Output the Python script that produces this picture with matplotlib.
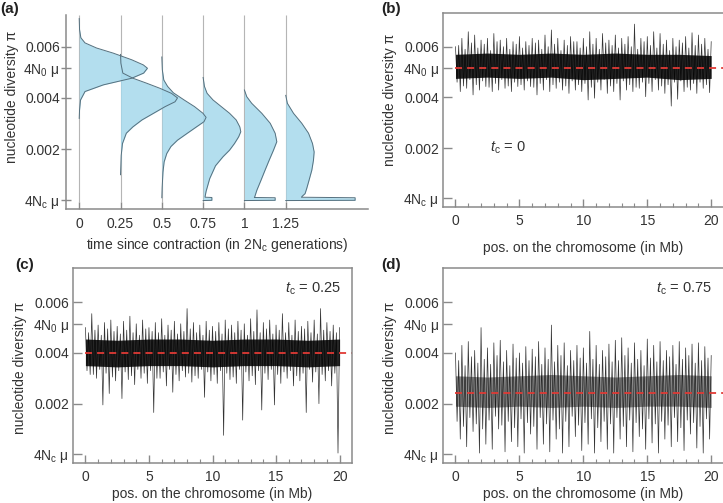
import numpy as np
import matplotlib
matplotlib.use("Agg")
import matplotlib.pyplot as plt

# all diversity values in units of 1e-3
PI_4NC_MU = 0.03
PI_4N0_MU = 5.15

# panel (a): densities of pi at each time since contraction
times = [0, 0.25, 0.5, 0.75, 1, 1.25]

pi_t000 = [7.1, 6.67, 6.35, 6.15, 5.95, 5.75, 5.49, 5.29, 5.16, 4.97, 4.77, 4.51, 4.25, 3.92, 3.53, 3.2]
w_t000 = [0.0, 0.002, 0.01, 0.035, 0.105, 0.206, 0.318, 0.388, 0.413, 0.39, 0.318, 0.146, 0.035, 0.008, 0.002, 0.0]

pi_t025 = [5.7, 5.36, 4.97, 4.77, 4.58, 4.38, 4.18, 4.0, 3.85, 3.66, 3.40, 3.14, 2.87, 2.62, 2.22, 1.75, 1.0]
w_t025 = [0.0, 0.002, 0.014, 0.075, 0.156, 0.237, 0.308, 0.345, 0.33, 0.27, 0.2, 0.13, 0.075, 0.035, 0.012, 0.004, 0.0]

pi_t050 = [5.6, 5.1, 4.7, 4.45, 4.2, 3.92, 3.66, 3.40, 3.24, 3.07, 2.87, 2.6, 2.35, 2.1, 1.83, 1.5, 1.1, 0.5, 0.1]
w_t050 = [0.0, 0.003, 0.012, 0.035, 0.07, 0.135, 0.198, 0.249, 0.268, 0.255, 0.21, 0.15, 0.095, 0.055, 0.03, 0.014, 0.007, 0.002, 0.0]

pi_t075 = [4.8, 4.45, 4.18, 3.92, 3.66, 3.40, 3.14, 2.87, 2.68, 2.48, 2.22, 1.96, 1.7, 1.35, 0.85, 0.35, 0.15, 0.12, 0.11, 0.0, -0.01]
w_t075 = [0.0, 0.008, 0.024, 0.06, 0.11, 0.16, 0.2, 0.222, 0.228, 0.215, 0.19, 0.16, 0.12, 0.075, 0.04, 0.018, 0.012, 0.012, 0.053, 0.053, 0.0]

pi_t100 = [4.31, 4.05, 3.79, 3.40, 3.01, 2.62, 2.29, 1.96, 1.57, 1.18, 0.78, 0.39, 0.13, 0.11, 0.10, 0.0, -0.01]
w_t100 = [0.0, 0.014, 0.044, 0.105, 0.156, 0.186, 0.196, 0.176, 0.15, 0.125, 0.1, 0.075, 0.062, 0.06, 0.186, 0.186, 0.0]

pi_t125 = [4.1, 3.79, 3.40, 3.01, 2.62, 2.22, 1.89, 1.57, 1.18, 0.78, 0.46, 0.26, 0.16, 0.12, 0.10, 0.0, -0.01]
w_t125 = [0.0, 0.01, 0.047, 0.097, 0.138, 0.162, 0.172, 0.168, 0.158, 0.141, 0.127, 0.117, 0.1, 0.095, 0.42, 0.42, 0.0]

# panels (b)-(d): pi along the chromosome, read per 0.5 Mb block:
# tall spike (hi), moderate dip (lo2), moderate peak (hi2), deep dip (lo)
pos_hi = np.arange(0, 20.01, 0.5)
pos_lo2 = np.arange(0.125, 20, 0.5)
pos_hi2 = np.arange(0.25, 20, 0.5)
pos_lo = np.arange(0.375, 20, 0.5)
core_pos = [0, 2.5, 5, 7.5, 10, 12.5, 15, 17.5, 20]

hi_b = [6.0, 6.33, 6.59, 6.46, 6.26, 6.33, 6.52, 6.26, 6.33, 6.2, 6.4, 6.2, 6.33, 6.26, 6.46,
        6.66, 6.33, 6.26, 6.4, 6.2, 6.33, 6.59, 6.33, 6.52, 6.26, 6.46, 6.33, 6.4, 6.89, 6.33,
        6.4, 6.59, 6.52, 6.26, 6.33, 6.26, 6.4, 6.55, 6.46, 6.33, 6.2]
lo2_b = [4.6, 4.45, 4.7, 4.5, 4.65, 4.4, 4.55, 4.7, 4.45, 4.6, 4.5, 4.65, 4.4, 4.55, 4.7,
         4.5, 4.6, 4.45, 4.65, 4.5, 4.55, 4.4, 4.6, 4.7, 4.45, 4.55, 4.65, 4.5, 4.4, 4.6,
         4.55, 4.7, 4.45, 4.5, 4.6, 4.65, 4.4, 4.55, 4.6, 4.5]
hi2_b = [6.05, 5.9, 6.15, 5.95, 6.1, 5.85, 6.2, 6.0, 5.9, 6.1, 5.95, 6.05, 6.15, 5.9, 6.0,
         6.1, 5.85, 6.05, 6.2, 5.95, 6.0, 6.1, 5.9, 6.15, 6.05, 5.95, 6.1, 6.0, 5.9, 6.2,
         6.05, 5.95, 6.1, 5.85, 6.0, 6.15, 5.95, 6.05, 6.1, 5.9]
lo_b = [4.23, 4.36, 4.1, 4.29, 4.43, 4.23, 4.29, 4.36, 4.23, 4.43, 4.29, 4.43, 4.1, 4.29, 4.23,
        4.36, 4.29, 4.16, 4.29, 4.23, 3.9, 3.97, 4.29, 4.16, 4.23, 3.9, 4.29, 4.23, 4.36, 4.03,
        4.23, 4.29, 4.16, 3.66, 3.93, 4.23, 4.29, 4.16, 4.36, 4.19]
core_hi_b = [5.7, 5.75, 5.7, 5.75, 5.7, 5.75, 5.7, 5.7, 5.65]
core_lo_b = [4.75, 4.8, 4.75, 4.8, 4.7, 4.75, 4.8, 4.7, 4.75]
mean_b = PI_4N0_MU

hi_c = [5.0, 5.55, 5.1, 5.2, 5.3, 5.05, 5.25, 5.45, 5.15, 5.3, 5.0, 5.2, 5.35, 5.1, 5.25,
        5.15, 5.75, 5.2, 5.1, 5.25, 5.05, 5.2, 5.3, 5.1, 5.25, 5.15, 5.35, 5.7, 5.2, 5.3,
        5.1, 5.55, 5.2, 5.3, 5.05, 5.25, 5.3, 5.75, 5.2, 5.1, 5.0]
lo2_c = [3.3, 3.15, 3.35, 3.2, 3.05, 3.3, 3.25, 3.1, 3.35, 3.2, 3.3, 3.0, 3.25, 3.35, 3.15,
         3.3, 3.2, 3.1, 3.35, 3.25, 3.15, 3.3, 3.2, 3.05, 3.35, 3.25, 3.1, 3.3, 3.2, 3.35,
         3.15, 3.25, 3.3, 3.1, 3.2, 3.35, 3.25, 3.15, 3.3, 3.2]
hi2_c = [4.8, 4.9, 4.7, 4.95, 4.85, 4.75, 4.9, 4.8, 4.7, 4.95, 4.85, 4.8, 4.7, 4.9, 4.75,
         4.85, 4.95, 4.8, 4.7, 4.9, 4.85, 4.75, 4.95, 4.8, 4.9, 4.7, 4.85, 4.8, 4.95, 4.75,
         4.9, 4.8, 4.7, 4.85, 4.95, 4.8, 4.75, 4.9, 4.85, 4.8]
lo_c = [3.15, 3.0, 1.95, 2.4, 2.9, 2.2, 2.95, 2.75, 3.0, 2.8, 1.65, 3.0, 2.7, 2.45, 2.9,
        3.05, 2.85, 3.0, 2.25, 2.9, 2.8, 0.75, 2.95, 2.8, 1.35, 2.9, 2.75, 1.75, 2.95, 1.95,
        2.8, 3.0, 2.7, 2.9, 1.65, 2.85, 2.0, 2.9, 2.7, 0.05]
core_hi_c = [4.55, 4.5, 4.55, 4.55, 4.5, 4.55, 4.55, 4.5, 4.55]
core_lo_c = [3.5, 3.45, 3.5, 3.5, 3.45, 3.5, 3.5, 3.45, 3.5]
mean_c = 4.0

hi_d = [4.0, 4.3, 4.45, 4.1, 5.0, 4.2, 4.4, 4.5, 4.1, 4.35, 4.0, 4.25, 4.15, 4.45, 4.2,
        5.1, 4.3, 4.4, 4.1, 4.3, 4.2, 4.85, 4.3, 4.1, 4.35, 4.5, 4.6, 4.2, 4.4, 4.1,
        4.55, 4.3, 4.45, 4.1, 4.3, 4.45, 4.2, 4.35, 4.4, 4.25, 3.9]
lo2_d = [1.3, 1.1, 1.45, 1.2, 1.0, 1.35, 1.5, 1.15, 1.3, 1.05, 1.4, 1.25, 1.1, 1.45, 1.2,
         1.35, 1.0, 1.3, 1.5, 1.15, 1.25, 1.4, 1.05, 1.3, 1.2, 1.45, 1.1, 1.35, 1.25, 1.0,
         1.4, 1.2, 1.3, 1.15, 1.45, 1.05, 1.35, 1.25, 1.1, 1.4]
hi2_d = [3.7, 3.5, 3.85, 3.6, 3.75, 3.55, 3.9, 3.65, 3.5, 3.8, 3.6, 3.7, 3.85, 3.55, 3.75,
         3.65, 3.9, 3.5, 3.7, 3.8, 3.6, 3.75, 3.55, 3.85, 3.65, 3.7, 3.9, 3.6, 3.75, 3.5,
         3.8, 3.65, 3.7, 3.85, 3.55, 3.75, 3.9, 3.6, 3.7, 3.8]
lo_d = [0.6, 0.3, 0.9, 0.05, 0.4, 0.2, 1.0, 0.1, 0.5, 0.3, 0.05, 0.8, 0.2, 0.4, 0.1,
        0.6, 0.05, 0.3, 0.7, 0.15, 0.4, 0.05, 0.5, 0.2, 0.05, 0.6, 0.3, 0.1, 0.7, 0.2,
        0.45, 0.05, 0.6, 0.3, 0.5, 0.15, 0.8, 0.25, 0.05, 0.6]
core_hi_d = [3.1, 3.05, 3.1, 3.15, 3.1, 3.05, 3.1, 3.15, 3.1]
core_lo_d = [1.9, 1.85, 1.9, 1.85, 1.9, 1.85, 1.9, 1.9, 1.85]
mean_d = 2.42

ytick_vals = [PI_4NC_MU, 2, 4, PI_4N0_MU, 6]
ytick_labels = [r"4N$_{\rm c}$ μ", "0.002", "0.004", r"4N$_{\rm 0}$ μ", "0.006"]

TEXT = "#333333"
SPINE = "#8a8a8a"
BLUE = "#a6d9ec"

plt.rcParams["font.family"] = ["Liberation Sans", "DejaVu Sans"]
plt.rcParams["font.size"] = 10
plt.rcParams["mathtext.fontset"] = "custom"
plt.rcParams["mathtext.rm"] = "Liberation Sans"
plt.rcParams["mathtext.it"] = "Liberation Sans:italic"
plt.rcParams["text.color"] = TEXT
plt.rcParams["axes.labelcolor"] = TEXT
plt.rcParams["xtick.color"] = SPINE
plt.rcParams["ytick.color"] = SPINE
plt.rcParams["xtick.labelcolor"] = TEXT
plt.rcParams["ytick.labelcolor"] = TEXT


def px_rect(left, top, right, bottom, W=723, H=503):
    return [left / W, 1 - bottom / H, (right - left) / W, (bottom - top) / H]


def style_y(ax, tickdir, length, pad, label_xy):
    ax.set_yticks(ytick_vals)
    ax.set_yticklabels(ytick_labels)
    ax.tick_params(axis="y", direction=tickdir, length=length, width=1, pad=pad)
    ax.set_ylabel("nucleotide diversity π")
    ax.yaxis.set_label_coords(*label_xy)


def draw_trace(ax, hi, lo2, hi2, lo, core_hi, core_lo, mean, label, lab_x, lab_y, lab_ha,
               xlabelpad, label_xy, core_alpha=0.85):
    n = len(pos_hi) + len(pos_lo2) + len(pos_hi2) + len(pos_lo)
    xs = np.empty(n)
    ys = np.empty(n)
    xs[0::4], ys[0::4] = pos_hi, hi
    xs[1::4], ys[1::4] = pos_lo2, lo2
    xs[2::4], ys[2::4] = pos_hi2, hi2
    xs[3::4], ys[3::4] = pos_lo, lo
    ax.fill_between(core_pos, core_lo, core_hi, color="black", lw=0, alpha=core_alpha)
    ax.plot(xs, ys, color="black", lw=0.5, alpha=0.8)
    ax.hlines(mean, 0, 21, color="#e03a35", lw=1.3, linestyles=(0, (3.9, 2.8)))

    ax.set_xlim(-1.0, 21.0)
    ax.set_ylim(-0.33, 7.34)
    ax.set_xticks([0, 5, 10, 15, 20])
    ax.set_xticks(np.arange(0, 21, 1), minor=True)
    ax.tick_params(axis="x", which="major", direction="in", length=6, width=1, pad=5)
    ax.tick_params(axis="x", which="minor", direction="in", length=3, width=0.8)
    style_y(ax, "in", 6.5, 2.5, label_xy)
    ax.set_xlabel("pos. on the chromosome (in Mb)", labelpad=xlabelpad)
    for sp in ax.spines.values():
        sp.set_color(SPINE)
        sp.set_linewidth(1.1)
    ax.text(lab_x, lab_y, label, ha=lab_ha, va="center", fontsize=10.5)


fig = plt.figure(figsize=(7.23, 5.03), dpi=100)

# panel (a)
ax_a = fig.add_axes(px_rect(66, 15, 368, 209))
ax_a.vlines(times, -0.05, 7.24, color="#b5b5b5", lw=0.8, zorder=1)
dens = [(pi_t000, w_t000), (pi_t025, w_t025), (pi_t050, w_t050),
        (pi_t075, w_t075), (pi_t100, w_t100), (pi_t125, w_t125)]
for t, (pi_vals, w_vals) in zip(times, dens):
    pi_vals = np.array(pi_vals)
    w_vals = np.array(w_vals)
    ax_a.fill_betweenx(pi_vals, t, t + w_vals, color=BLUE, alpha=0.85, lw=0, zorder=2)
    ax_a.plot(t + w_vals, pi_vals, color="#55707e", lw=0.7, zorder=3)
ax_a.set_xlim(-0.08, 1.748)
ax_a.set_ylim(-0.34, 7.24)
ax_a.set_xticks(times)
ax_a.set_xticklabels(["0", "0.25", "0.5", "0.75", "1", "1.25"])
ax_a.tick_params(axis="x", direction="in", length=5, width=1, pad=6)
style_y(ax_a, "inout", 7.2, 0.8, (-0.157, 0.579))
ax_a.set_xlabel(r"time since contraction (in 2N$_{\rm c}$ generations)", labelpad=3)
ax_a.spines["top"].set_visible(False)
ax_a.spines["right"].set_visible(False)
for sp in ("left", "bottom"):
    ax_a.spines[sp].set_color(SPINE)
    ax_a.spines[sp].set_linewidth(1.1)

# panels (b), (c), (d)
ax_b = fig.add_axes(px_rect(442.7, 12.7, 724, 207.3))
draw_trace(ax_b, hi_b, lo2_b, hi2_b, lo_b, core_hi_b, core_lo_b, mean_b,
           r"$t_{\rm c}$ = 0", 2.7, 2.02, "left", 9, (-0.162, 0.551))

ax_c = fig.add_axes(px_rect(72.7, 268.3, 352.3, 462.7))
draw_trace(ax_c, hi_c, lo2_c, hi2_c, lo_c, core_hi_c, core_lo_c, mean_c,
           r"$t_{\rm c}$ = 0.25", 20.1, 6.55, "right", 2.5, (-0.162, 0.486))

ax_d = fig.add_axes(px_rect(442.7, 268.3, 724, 462.7))
draw_trace(ax_d, hi_d, lo2_d, hi2_d, lo_d, core_hi_d, core_lo_d, mean_d,
           r"$t_{\rm c}$ = 0.75", 20.05, 6.55, "right", 2.5, (-0.162, 0.486),
           core_alpha=0.45)

for txt, x, y in [("(a)", 0, 9), ("(b)", 381, 9.5), ("(c)", 15, 265.5), ("(d)", 381, 265)]:
    fig.text(x / 723, 1 - y / 503, txt, ha="left", va="center",
             fontsize=11, fontweight="bold", color="#222222")

fig.savefig("out.png", dpi=100)
